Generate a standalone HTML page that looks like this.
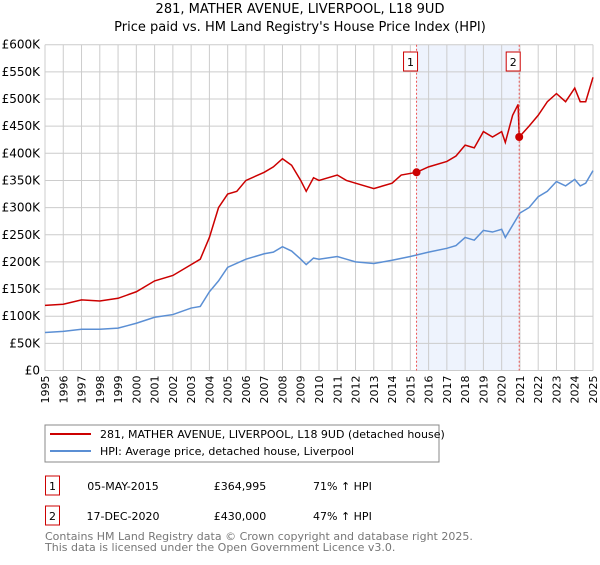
<!DOCTYPE html>
<html><head><meta charset="utf-8"><style>
body{margin:0;background:#fff;font-family:"Liberation Sans","DejaVu Sans",sans-serif;}
svg text{font-family:"DejaVu Sans","Liberation Sans",sans-serif;}
</style></head><body>
<svg id="c" width="600" height="560" xmlns="http://www.w3.org/2000/svg">
<text x="300" y="13" text-anchor="middle" font-size="13">281, MATHER AVENUE, LIVERPOOL, L18 9UD</text>
<text x="300" y="31" text-anchor="middle" font-size="13">Price paid vs. HM Land Registry's House Price Index (HPI)</text>
<g id="plot"></g>
<rect x="45" y="425" width="394" height="37" fill="#fff" stroke="#888"/>
<line x1="50" y1="434" x2="91" y2="434" stroke="#cc0000" stroke-width="2"/>
<text x="100" y="438" font-size="11">281, MATHER AVENUE, LIVERPOOL, L18 9UD (detached house)</text>
<line x1="50" y1="451" x2="91" y2="451" stroke="#5b8fd4" stroke-width="2"/>
<text x="100" y="455" font-size="11">HPI: Average price, detached house, Liverpool</text>
<rect x="45.5" y="476" width="14" height="19" fill="none" stroke="#cc0000"/>
<text x="52.5" y="490" text-anchor="middle" font-size="11">1</text>
<text x="123" y="490" text-anchor="middle" font-size="11">05-MAY-2015</text>
<text x="240" y="490" text-anchor="middle" font-size="11">£364,995</text>
<text x="313" y="490" font-size="11">71% ↑ HPI</text>
<rect x="45.5" y="506" width="14" height="19" fill="none" stroke="#cc0000"/>
<text x="52.5" y="520" text-anchor="middle" font-size="11">2</text>
<text x="123" y="520" text-anchor="middle" font-size="11">17-DEC-2020</text>
<text x="240" y="520" text-anchor="middle" font-size="11">£430,000</text>
<text x="313" y="520" font-size="11">47% ↑ HPI</text>
<text x="45" y="540" font-size="11" fill="#777">Contains HM Land Registry data © Crown copyright and database right 2025.</text>
<text x="45" y="551" font-size="11" fill="#777">This data is licensed under the Open Government Licence v3.0.</text>
</svg>
<script>
const redX=[1995,1996,1997,1998,1999,2000,2001,2002,2003,2003.5,2004,2004.5,2005,2005.5,2006,2007,2007.5,2008,2008.5,2009,2009.3,2009.7,2010,2011,2011.5,2012,2013,2014,2014.5,2015.34,2016,2017,2017.5,2018,2018.5,2019,2019.5,2020,2020.2,2020.6,2020.9,2020.96,2021.5,2022,2022.5,2023,2023.5,2024,2024.3,2024.6,2025];
const redY=[120,122,130,128,133,145,165,175,195,205,245,300,325,330,350,365,375,390,378,350,330,355,350,360,350,345,335,345,360,365,375,385,395,415,410,440,430,440,420,470,490,430,450,470,495,510,495,520,495,495,540];
const blueX=[1995,1996,1997,1998,1999,2000,2001,2002,2003,2003.5,2004,2004.5,2005,2006,2007,2007.5,2008,2008.5,2009,2009.3,2009.7,2010,2011,2011.5,2012,2013,2014,2015,2016,2017,2017.5,2018,2018.5,2019,2019.5,2020,2020.2,2021,2021.5,2022,2022.5,2023,2023.5,2024,2024.3,2024.6,2025];
const blueY=[70,72,76,76,78,87,98,103,115,118,145,165,190,205,215,218,228,220,205,195,207,205,210,205,200,197,203,210,218,225,230,245,240,258,255,260,245,290,300,320,330,348,340,352,340,345,368];
const saleX=[2015.34,2020.96];
const saleY=[365,430];
const yTicks=[0,50,100,150,200,250,300,350,400,450,500,550,600];
const years=[];for(let y=1995;y<=2025;y++)years.push(y);
const L=45,R=593,T=44.7,B=370.5;
const xs=v=>L+(v-1995)/30*(R-L), ys=v=>B-v/600*(B-T);
const NS="http://www.w3.org/2000/svg",g=document.getElementById('plot');
function mk(t,a){const e=document.createElementNS(NS,t);for(const k in a)e.setAttribute(k,a[k]);g.appendChild(e);return e;}
let e=mk('rect',{x:xs(saleX[0]),y:T,width:xs(saleX[1])-xs(saleX[0]),height:B-T,fill:'#eef3fd'});


years.forEach(y=>{
 let l=mk('line',{x1:xs(y),x2:xs(y),y1:T,y2:B,stroke:'#ccc'});
 
 
 let t=mk('text',{x:0,y:0,'font-size':11,'text-anchor':'end',transform:`translate(${xs(y)+4},${B+5}) rotate(-90)`});
 t.textContent=y;
 
 
});
yTicks.forEach(v=>{
 let l=mk('line',{x1:L,x2:R,y1:ys(v),y2:ys(v),stroke:'#ccc'});
 
 
 let t=mk('text',{x:L-5,y:ys(v)+4,'font-size':12,'text-anchor':'end'});
 t.textContent=v===0?'£0':'£'+v+'K';
 
 
});
function line(X,Y,c,n){let p=mk('polyline',{points:X.map((x,i)=>xs(x)+','+ys(Y[i])).join(' '),fill:'none',stroke:c,'stroke-width':1.5});
 
 }
line(blueX,blueY,'#5b8fd4','hpi-line');
line(redX,redY,'#cc0000','property-line');
saleX.forEach((x,i)=>{
 let d=mk('line',{x1:xs(x),x2:xs(x),y1:T,y2:B,stroke:'#e55','stroke-dasharray':'2,2'});
 
 
 let c=mk('circle',{cx:xs(x),cy:ys(saleY[i]),r:4,fill:'#cc0000'});
 
 
 let b=mk('rect',{x:xs(x)-13,y:52,width:14,height:19,fill:'#fff',stroke:'#cc0000'});
 
 
 let t=mk('text',{x:xs(x)-6,y:66,'font-size':11,'text-anchor':'middle'});
 t.textContent=i+1;
 
 
});
</script>
</body></html>
